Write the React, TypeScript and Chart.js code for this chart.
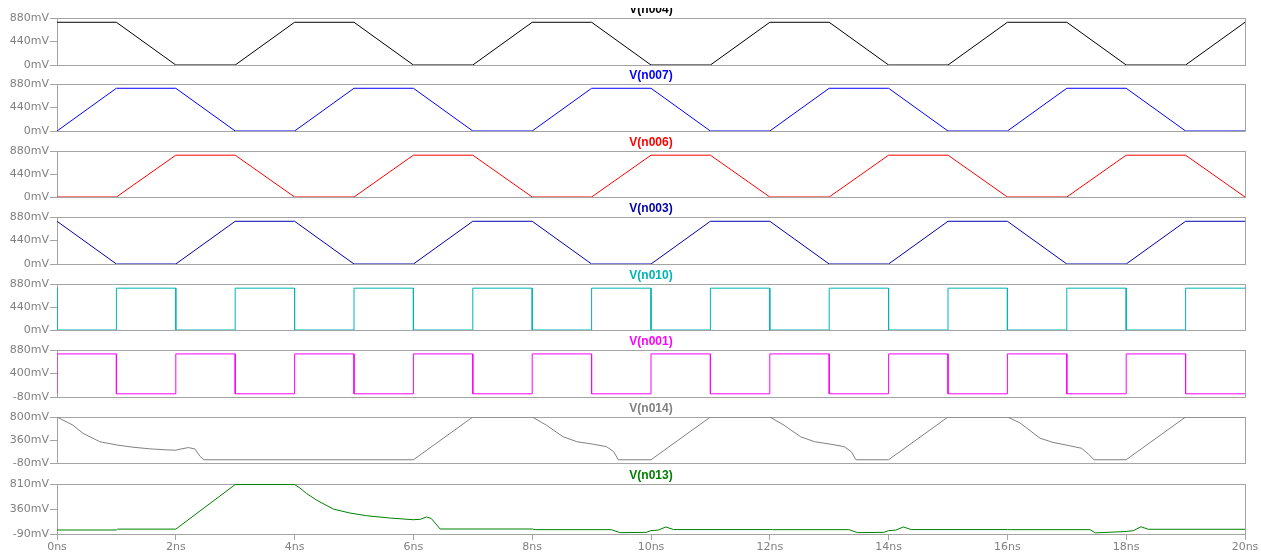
import React, { useEffect, useRef } from "react";
import { Chart, registerables } from "chart.js";

Chart.register(...registerables);

// ---------- data (time in ns, voltage in mV) ----------
const T_RAMP = [0, 1, 2, 3, 4, 5, 6, 7, 8, 9, 10, 11, 12, 13, 14, 15, 16, 17, 18, 19, 20];
const V_N004 = [800, 800, 0, 0, 800, 800, 0, 0, 800, 800, 0, 0, 800, 800, 0, 0, 800, 800, 0, 0, 800];
const V_N007 = [0, 800, 800, 0, 0, 800, 800, 0, 0, 800, 800, 0, 0, 800, 800, 0, 0, 800, 800, 0, 0];
const V_N006 = [0, 0, 800, 800, 0, 0, 800, 800, 0, 0, 800, 800, 0, 0, 800, 800, 0, 0, 800, 800, 0];
const V_N003 = [800, 0, 0, 800, 800, 0, 0, 800, 800, 0, 0, 800, 800, 0, 0, 800, 800, 0, 0, 800, 800];

const T_SQUARE = [0, 0, 1, 1, 2, 2, 3, 3, 4, 4, 5, 5, 6, 6, 7, 7, 8, 8, 9, 9, 10, 10, 11, 11, 12, 12, 13, 13, 14, 14, 15, 15, 16, 16, 17, 17, 18, 18, 19, 19, 20];
const V_N010 = [800, 0, 0, 800, 800, 0, 0, 800, 800, 0, 0, 800, 800, 0, 0, 800, 800, 0, 0, 800, 800, 0, 0, 800, 800, 0, 0, 800, 800, 0, 0, 800, 800, 0, 0, 800, 800, 0, 0, 800, 800];
const V_N001 = [-15, 800, 800, -15, -15, 800, 800, -15, -15, 800, 800, -15, -15, 800, 800, -15, -15, 800, 800, -15, -15, 800, 800, -15, -15, 800, 800, -15, -15, 800, 800, -15, -15, 800, 800, -15, -15, 800, 800, -15, -15];

const T_N014 = [0, 0.27, 0.44, 0.72, 1.0, 1.28, 1.57, 1.85, 2.0, 2.07, 2.21, 2.32, 2.41, 2.47, 6.0, 7.0, 8.0, 8.24, 8.52, 8.75, 9.03, 9.25, 9.37, 9.45, 10.0, 11.0, 12.0, 12.24, 12.52, 12.75, 13.03, 13.25, 13.37, 13.45, 14.0, 15.0, 16.0, 16.21, 16.55, 16.77, 17.05, 17.25, 17.36, 17.46, 18.0, 19.0, 20.0];
const V_N014 = [800, 643, 486, 328, 265, 222, 190, 171, 165, 184, 215, 190, 45, -18, -18, 800, 800, 643, 422, 328, 279, 233, 139, -18, -18, 800, 800, 643, 422, 328, 279, 233, 139, -18, -18, 800, 800, 688, 394, 313, 250, 201, 94, -18, -18, 800, 800];

const T_N013 = [0, 1.0, 1.02, 2.0, 3.0, 4.0, 4.09, 4.2, 4.37, 4.65, 4.93, 5.21, 5.6, 6.0, 6.12, 6.22, 6.3, 6.38, 6.45, 8.0, 8.05, 9.33, 9.48, 9.92, 10.0, 10.12, 10.25, 10.38, 12.0, 12.05, 13.33, 13.48, 13.92, 14.0, 14.12, 14.25, 14.38, 16.0, 16.05, 17.39, 17.48, 17.56, 18.0, 18.12, 18.25, 18.37, 20.0];
const V_N013 = [-18, -18, -2, -2, 800, 800, 738, 640, 520, 360, 288, 239, 198, 167, 175, 216, 190, 90, 0, 0, -12, -12, -66, -60, -30, -20, 36, -10, -10, -12, -12, -66, -60, -30, -20, 36, -10, -10, -12, -12, -70, -66, -45, -30, 40, -5, -5];

const Y_TICKS_0_880 = [0, 440, 880];
const Y_TICKS_N001 = [-80, 400, 880];
const Y_TICKS_N014 = [-80, 360, 800];
const Y_TICKS_N013 = [-90, 360, 810];

const X_MIN_NS = 0;
const X_MAX_NS = 20;
const X_STEP_NS = 2;

// ---------- styling / layout ----------
const FRAME = "#a4a4a4";
const LABEL = "#808080";
const TICK_FONT = { family: '"DejaVu Sans", sans-serif', size: 11 };

type Panel = {
  name: string;
  color: string;
  t: number[];
  v: number[];
  ticks: number[];
  top: number;
  bottom: number;
  canvasTop: number;
  showX: boolean;
};

const PANELS: Panel[] = [
  { name: "V(n004)", color: "#000000", t: T_RAMP, v: V_N004, ticks: Y_TICKS_0_880, top: 18, bottom: 65, canvasTop: 8, showX: false },
  { name: "V(n007)", color: "#0000ff", t: T_RAMP, v: V_N007, ticks: Y_TICKS_0_880, top: 84, bottom: 131, canvasTop: 62, showX: false },
  { name: "V(n006)", color: "#ff0000", t: T_RAMP, v: V_N006, ticks: Y_TICKS_0_880, top: 151, bottom: 197, canvasTop: 129, showX: false },
  { name: "V(n003)", color: "#0000b0", t: T_RAMP, v: V_N003, ticks: Y_TICKS_0_880, top: 217, bottom: 264, canvasTop: 195, showX: false },
  { name: "V(n010)", color: "#00b4b4", t: T_SQUARE, v: V_N010, ticks: Y_TICKS_0_880, top: 284, bottom: 330, canvasTop: 262, showX: false },
  { name: "V(n001)", color: "#ff00ff", t: T_SQUARE, v: V_N001, ticks: Y_TICKS_N001, top: 350, bottom: 397, canvasTop: 328, showX: false },
  { name: "V(n014)", color: "#808080", t: T_N014, v: V_N014, ticks: Y_TICKS_N014, top: 417, bottom: 463, canvasTop: 395, showX: false },
  { name: "V(n013)", color: "#008000", t: T_N013, v: V_N013, ticks: Y_TICKS_N013, top: 484, bottom: 534, canvasTop: 462, showX: true },
];

const framePlugin = {
  id: "frame",
  beforeDatasetsDraw(chart: any) {
    const { ctx, chartArea: a } = chart;
    ctx.save();
    ctx.strokeStyle = FRAME;
    ctx.lineWidth = 1;
    ctx.strokeRect(
      Math.round(a.left) + 0.5,
      Math.round(a.top) + 0.5,
      Math.round(a.right - a.left),
      Math.round(a.bottom - a.top)
    );
    ctx.restore();
  },
};

function makeTitlePlugin(text: string, color: string) {
  return {
    id: "paneltitle",
    afterDraw(chart: any) {
      const { ctx, chartArea: a } = chart;
      ctx.save();
      ctx.font = 'bold 12px "Liberation Sans", Arial, sans-serif';
      ctx.fillStyle = color;
      ctx.textAlign = "center";
      ctx.textBaseline = "alphabetic";
      ctx.fillText(text, (a.left + a.right) / 2, Math.round(a.top) - 5);
      ctx.restore();
    },
  };
}

function PanelChart({ p }: { p: Panel }) {
  const ref = useRef<HTMLCanvasElement>(null);
  const padTop = p.top - p.canvasTop;
  const padBottom = p.showX ? 0 : 8;
  const xAxisH = p.showX ? 24 : 0;
  const height = padTop + (p.bottom - p.top) + padBottom + xAxisH;

  useEffect(() => {
    if (!ref.current) return;
    const yMin = p.ticks[0];
    const yMax = p.ticks[p.ticks.length - 1];
    const chart = new Chart(ref.current, {
      type: "line",
      data: {
        datasets: [
          {
            data: p.t.map((x, i) => ({ x, y: p.v[i] })),
            borderColor: p.color,
            backgroundColor: p.color,
            borderWidth: 1,
            pointRadius: 0,
            tension: 0,
            fill: false,
          },
        ],
      },
      options: {
        responsive: false,
        animation: false,
        events: [],
        devicePixelRatio: 1,
        layout: { padding: { top: padTop, bottom: padBottom, left: 0, right: 16 } },
        plugins: { legend: { display: false }, tooltip: { enabled: false }, title: { display: false } },
        scales: {
          x: {
            type: "linear",
            min: X_MIN_NS,
            max: X_MAX_NS,
            display: p.showX,
            ticks: {
              stepSize: X_STEP_NS,
              callback: (v: any) => `${v}ns`,
              color: LABEL,
              font: TICK_FONT,
              padding: 1,
              maxRotation: 0,
              autoSkip: false,
            },
            grid: { drawOnChartArea: false, color: FRAME, tickLength: 6 },
            border: { display: false },
            afterFit: (s: any) => {
              s.height = p.showX ? 24 : 0;
            },
          },
          y: {
            type: "linear",
            min: yMin,
            max: yMax,
            afterBuildTicks: (s: any) => {
              s.ticks = p.ticks.map((value) => ({ value }));
            },
            ticks: {
              callback: (v: any) => `${v}mV`,
              color: LABEL,
              font: TICK_FONT,
              padding: 1,
              autoSkip: false,
            },
            grid: { drawOnChartArea: false, color: FRAME, tickLength: 7 },
            border: { display: false },
            afterFit: (s: any) => {
              s.width = 57;
            },
          },
        },
      } as any,
      plugins: [framePlugin, makeTitlePlugin(p.name, p.color)],
    });
    return () => chart.destroy();
  }, []);

  return (
    <canvas
      ref={ref}
      width={1261}
      height={height}
      style={{ position: "absolute", left: 0, top: p.canvasTop, width: 1261, height }}
    />
  );
}

export default function App() {
  return (
    <div
      style={{
        position: "fixed",
        left: 0,
        top: 0,
        width: 1261,
        height: 558,
        background: "#ffffff",
        overflow: "hidden",
      }}
    >
      {PANELS.map((p) => (
        <PanelChart key={p.name} p={p} />
      ))}
    </div>
  );
}
